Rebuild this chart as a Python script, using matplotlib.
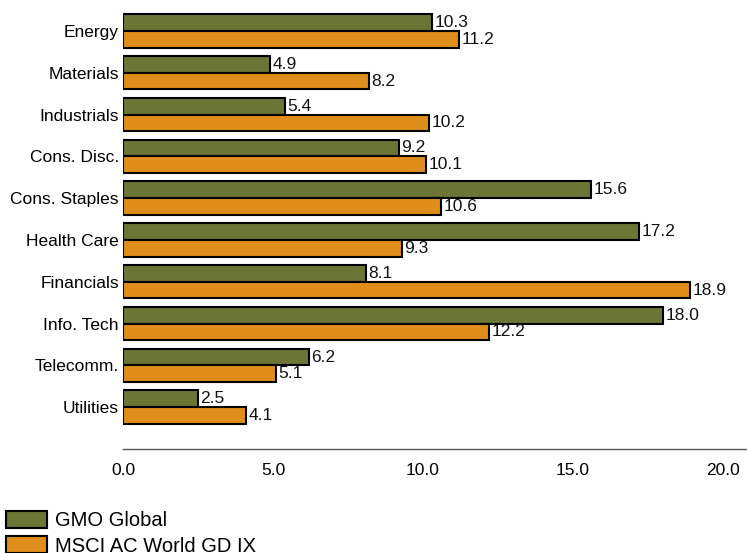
import matplotlib
matplotlib.use("Agg")
import matplotlib.pyplot as plt
import numpy as np
from matplotlib.patches import Patch

categories = ["Energy", "Materials", "Industrials", "Cons. Disc.", "Cons. Staples",
              "Health Care", "Financials", "Info. Tech", "Telecomm.", "Utilities"]
gmo = [10.3, 4.9, 5.4, 9.2, 15.6, 17.2, 8.1, 18.0, 6.2, 2.5]
msci = [11.2, 8.2, 10.2, 10.1, 10.6, 9.3, 18.9, 12.2, 5.1, 4.1]
xticks = [0.0, 5.0, 10.0, 15.0, 20.0]
series_names = ["GMO Global", "MSCI AC World GD IX"]

green = "#6b7536"
orange = "#e08e1b"

plt.rcParams['font.family'] = ['Liberation Sans Narrow', 'Liberation Sans', 'DejaVu Sans']

fig = plt.figure(figsize=(7.47, 5.53), dpi=100)
ax = fig.add_axes([123/747, 1 - 449/553, 1 - 123/747, 449/553])

y = np.arange(len(categories))
h = 0.4
ax.barh(y - h/2, gmo, height=h, color=green, edgecolor="black", linewidth=1.5)
ax.barh(y + h/2, msci, height=h, color=orange, edgecolor="black", linewidth=1.5)

for yi, v in zip(y, gmo):
    ax.text(v + 0.08, yi - h/2, f"{v:.1f}", va="center", ha="left", fontsize=12.5, color="#111111")
for yi, v in zip(y, msci):
    ax.text(v + 0.08, yi + h/2, f"{v:.1f}", va="center", ha="left", fontsize=12.5, color="#111111")

ax.set_xlim(0, 20.8)
ax.set_ylim(10.0, -0.74)
ax.set_yticks(y)
ax.set_yticklabels(categories, fontsize=12.5)
ax.set_xticks(xticks)
ax.set_xticklabels([f"{t:.1f}" for t in xticks], fontsize=12.5)
ax.tick_params(axis="y", length=0, pad=3)
ax.tick_params(axis="x", length=0, pad=10)
for s in ["top", "right", "left"]:
    ax.spines[s].set_visible(False)
ax.spines["bottom"].set_color("#555555")
ax.spines["bottom"].set_linewidth(1.0)

handles = [Patch(facecolor=green, edgecolor="black", linewidth=1.5),
           Patch(facecolor=orange, edgecolor="black", linewidth=1.5)]
fig.legend(handles, series_names, loc="lower left", bbox_to_anchor=(0.003, -0.012),
           frameon=False, fontsize=14.5, handlelength=2.0, handleheight=0.9,
           handletextpad=0.4, labelspacing=0.3, borderaxespad=0.0, borderpad=0.2)

fig.savefig("out.png", dpi=100)
